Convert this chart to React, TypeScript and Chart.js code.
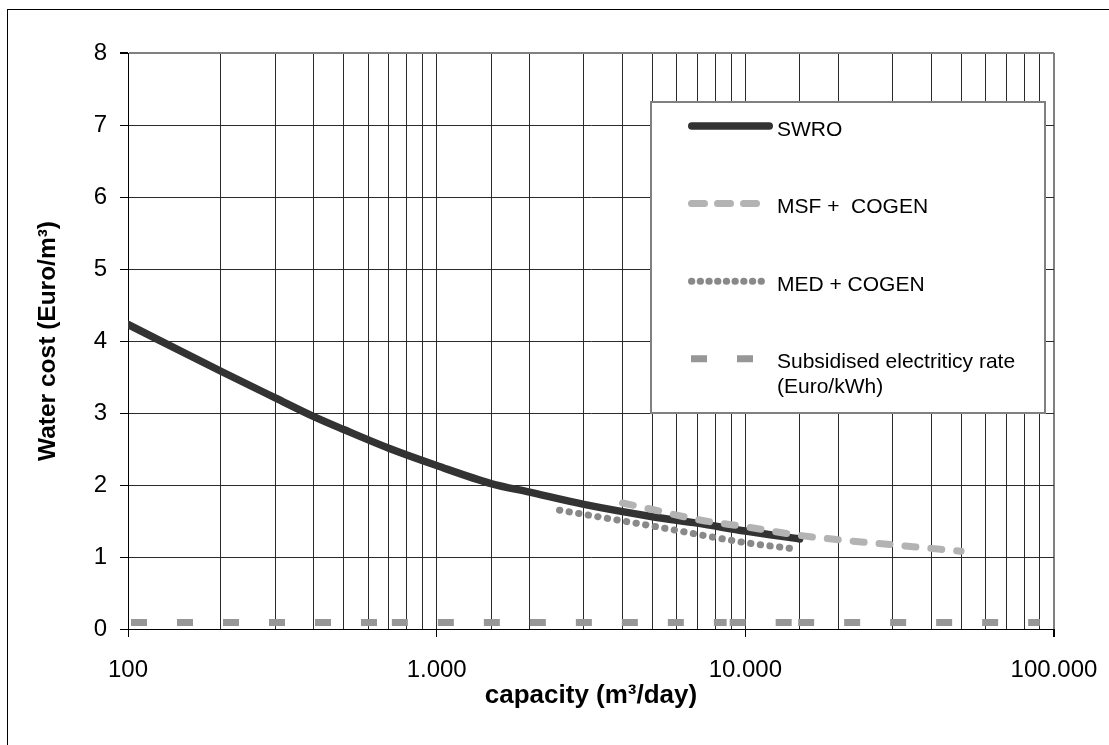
import React, { useEffect, useRef } from 'react';
import { Chart, registerables } from 'chart.js';

Chart.register(...registerables);

// SWRO water cost vs plant capacity
const swroCapacity = [100, 200, 300, 400, 500, 700, 1000, 1500, 2000, 3000, 5000, 7000, 10000, 15000];
const swroCost = [4.23, 3.58, 3.21, 2.95, 2.77, 2.51, 2.27, 2.02, 1.9, 1.73, 1.56, 1.47, 1.36, 1.25];

// MSF + cogeneration
const msfCapacity = [4000, 5000, 7000, 10000, 15000, 20000, 30000, 50000];
const msfCost = [1.75, 1.66, 1.52, 1.42, 1.3, 1.24, 1.17, 1.08];

// MED + cogeneration
const medCapacity = [2500, 5000, 10000, 14000];
const medCost = [1.65, 1.43, 1.2, 1.12];

// Subsidised electricity rate (Euro/kWh)
const elecCapacity = [100, 700, 8700, 14500, 90000];
const elecRate = [0.09, 0.09, 0.09, 0.09, 0.09];

const seriesNames = ['SWRO', 'MSF +  COGEN', 'MED + COGEN', 'Subsidised electriticy rate\n(Euro/kWh)'];

const xTickValues = [100, 1000, 10000, 100000];
const xTickLabels = ['100', '1.000', '10.000', '100.000'];
const xTitle = 'capacity (m³/day)';
const yTitle = 'Water cost (Euro/m³)';

const FONT = "'Liberation Sans', Arial, Helvetica, sans-serif";
const GRID = '#2a2a2a';

const pts = (xs: number[], ys: number[]) => xs.map((x, i) => ({ x, y: ys[i] }));
const isMajorX = (v: number) => xTickValues.some((t) => Math.abs(v - t) < t * 1e-6);

// Legend drawn inside the plot as a framed box
const boxLegend = {
  id: 'boxLegend',
  afterDatasetsDraw(chart: any) {
    const { ctx, chartArea } = chart;
    const left = chartArea.left + 523;
    const top = chartArea.top + 49;
    const w = 394;
    const h = 311;
    ctx.save();
    ctx.fillStyle = '#ffffff';
    ctx.fillRect(left, top, w, h);
    ctx.strokeStyle = '#808080';
    ctx.lineWidth = 2;
    ctx.strokeRect(left, top, w, h);

    [0, 1, 2, 3].forEach((di, row) => {
      const ds = chart.data.datasets[di];
      const y = top + 24 + row * 77.6;
      const x0 = left + 37;
      const x1 = left + 122;
      const cap = ds.borderCapStyle || 'butt';
      const inset = cap === 'round' ? ds.borderWidth / 2 : 0;
      ctx.save();
      ctx.beginPath();
      ctx.moveTo(x0 + inset, y);
      ctx.lineTo(x1 - inset, y);
      ctx.strokeStyle = ds.borderColor;
      ctx.lineWidth = ds.borderWidth;
      ctx.lineCap = cap;
      ctx.setLineDash(ds.legendDash || ds.borderDash || []);
      ctx.lineDashOffset = ds.borderDashOffset || 0;
      ctx.stroke();
      ctx.restore();

      ctx.fillStyle = '#000';
      ctx.font = `21px ${FONT}`;
      ctx.textAlign = 'left';
      ctx.textBaseline = 'alphabetic';
      String(ds.label)
        .split('\n')
        .forEach((ln: string, k: number) => {
          ctx.fillText(ln, left + 126, y + 9.5 + k * 25);
        });
    });
    ctx.restore();
  },
};

export default function App() {
  const ref = useRef<HTMLCanvasElement>(null);

  useEffect(() => {
    if (!ref.current) return;
    Chart.defaults.font.family = FONT;
    const chart = new Chart(ref.current, {
      type: 'line',
      data: {
        datasets: [
          {
            label: seriesNames[0],
            data: pts(swroCapacity, swroCost),
            borderColor: '#333333',
            borderWidth: 7.5,
            borderCapStyle: 'round',
            borderJoinStyle: 'round',
            pointRadius: 0,
            cubicInterpolationMode: 'monotone',
            fill: false,
            order: 1,
          },
          {
            label: seriesNames[1],
            data: pts(msfCapacity, msfCost),
            borderColor: '#b3b3b3',
            borderWidth: 7,
            borderDash: [11, 15],
            legendDash: [13, 13],
            borderCapStyle: 'round',
            borderJoinStyle: 'round',
            pointRadius: 0,
            cubicInterpolationMode: 'monotone',
            fill: false,
            order: 0,
          },
          {
            label: seriesNames[2],
            data: pts(medCapacity, medCost),
            borderColor: '#898989',
            borderWidth: 7,
            borderDash: [0.3, 9.4],
            legendDash: [0.3, 8.4],
            borderCapStyle: 'round',
            borderJoinStyle: 'round',
            pointRadius: 0,
            cubicInterpolationMode: 'monotone',
            fill: false,
            order: 2,
          },
          {
            label: seriesNames[3],
            data: pts(elecCapacity, elecRate),
            borderColor: '#979797',
            borderWidth: 7,
            borderDash: [16, 30],
            borderDashOffset: 43,
            borderCapStyle: 'butt',
            pointRadius: 0,
            fill: false,
            order: 3,
            // each segment restarts its dash pattern
            segment: {
              borderDashOffset: (c: any) => 43 + (c.p0DataIndex % 2) * 0.001,
            },
          },
        ] as any,
      },
      options: {
        responsive: false,
        animation: false,
        devicePixelRatio: 1,
        layout: { padding: { top: 53, right: 55, left: 0, bottom: 0 } },
        plugins: {
          legend: { display: false },
          tooltip: { enabled: false },
        },
        scales: {
          x: {
            type: 'logarithmic',
            min: 100,
            max: 100000,
            afterFit: (s: any) => {
              s.height = 116;
              s.paddingLeft = 0;
              s.paddingRight = 0;
            },
            border: { display: true, color: '#000', width: 1 },
            grid: {
              color: (c: any) => (c.tick && Math.abs(c.tick.value - 100000) < 1 ? '#808080' : GRID),
              lineWidth: (c: any) => (c.tick && Math.abs(c.tick.value - 100000) < 1 ? 2 : 1),
              tickLength: 8,
              tickColor: (c: any) => (c.tick && isMajorX(c.tick.value) ? '#000' : 'rgba(0,0,0,0)'),
            },
            ticks: {
              autoSkip: false,
              maxRotation: 0,
              minRotation: 0,
              padding: 19,
              color: '#000',
              font: { family: FONT, size: 24 },
              callback: (v: any) => {
                const i = xTickValues.findIndex((t) => Math.abs(Number(v) - t) < t * 1e-6);
                return i >= 0 ? xTickLabels[i] : '';
              },
            },
            title: {
              display: true,
              text: xTitle,
              color: '#000',
              font: { family: FONT, size: 26, weight: 'bold' },
              padding: { top: 0, bottom: 34 },
            },
          },
          y: {
            min: 0,
            max: 8,
            afterFit: (s: any) => {
              s.width = 128;
            },
            border: { display: true, color: '#000', width: 1 },
            grid: {
              color: (c: any) => (c.tick && c.tick.value === 8 ? '#808080' : GRID),
              lineWidth: (c: any) => (c.tick && c.tick.value === 8 ? 2 : 1),
              tickLength: 8,
              tickColor: '#000',
            },
            ticks: {
              stepSize: 1,
              padding: 13,
              color: '#000',
              font: { family: FONT, size: 24 },
            },
            title: {
              display: true,
              text: yTitle,
              color: '#000',
              font: { family: FONT, size: 24.5, weight: 'bold' },
              padding: { top: 34, bottom: 0 },
            },
          },
        },
      } as any,
      plugins: [boxLegend],
    });
    return () => chart.destroy();
  }, []);

  return (
    <div>
      <div
        style={{
          position: 'fixed',
          left: 7,
          top: 9,
          width: 1300,
          height: 1000,
          border: '1px solid #000',
          boxSizing: 'border-box',
        }}
      />
      <canvas
        ref={ref}
        width={1109}
        height={745}
        style={{ position: 'fixed', left: 0, top: 0, width: 1109, height: 745 }}
      />
    </div>
  );
}
